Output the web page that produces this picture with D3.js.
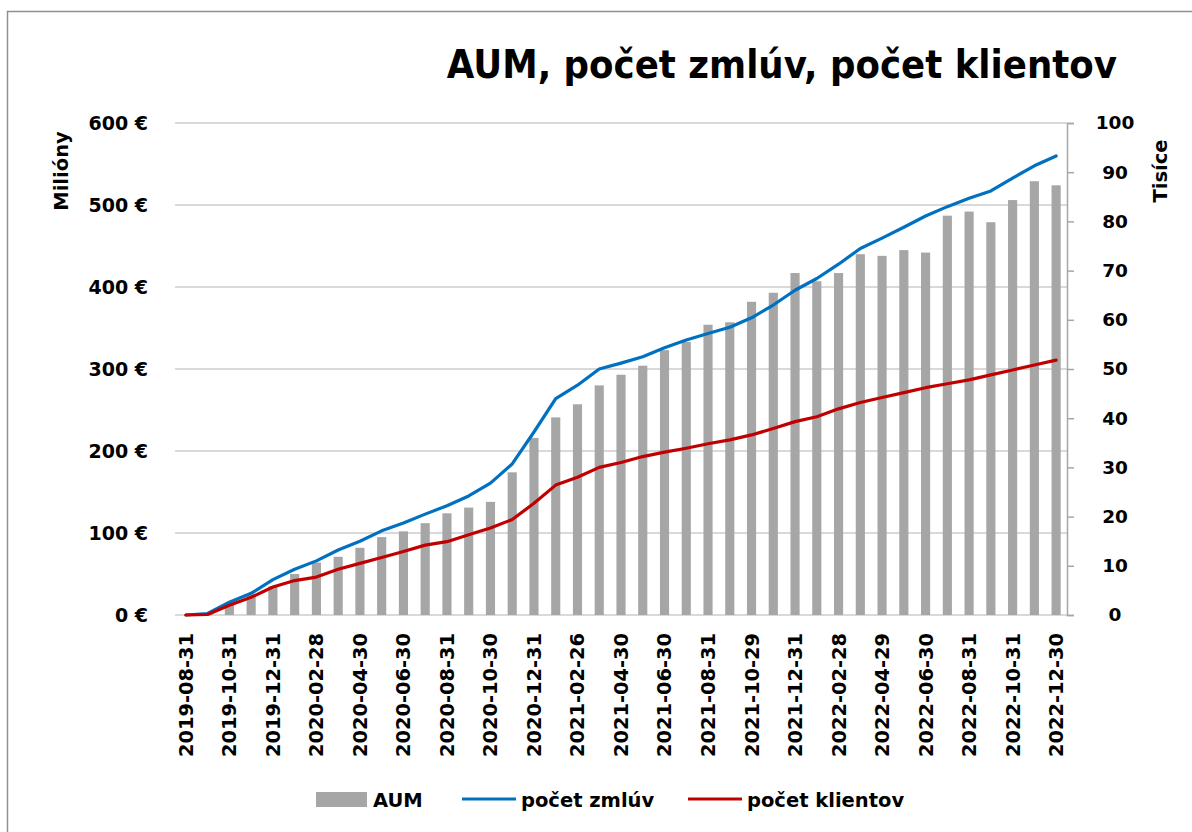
<!DOCTYPE html>
<html><head><meta charset="utf-8">
<script src="https://cdn.jsdelivr.net/npm/d3@7"></script>
<style>
body{margin:0;background:#fff}
text{font-family:"DejaVu Sans",sans-serif;font-weight:bold;fill:#000}
</style>
</head><body>
<svg id="chart" width="1192" height="832"></svg>
<script>
const dates = ["2019-08-31","2019-09-30","2019-10-31","2019-11-29","2019-12-31","2020-01-31","2020-02-28","2020-03-31","2020-04-30","2020-05-29","2020-06-30","2020-07-31","2020-08-31","2020-09-30","2020-10-30","2020-11-30","2020-12-31","2021-01-29","2021-02-26","2021-03-31","2021-04-30","2021-05-31","2021-06-30","2021-07-30","2021-08-31","2021-09-30","2021-10-29","2021-11-30","2021-12-31","2022-01-31","2022-02-28","2022-03-31","2022-04-29","2022-05-31","2022-06-30","2022-07-29","2022-08-31","2022-09-30","2022-10-31","2022-11-30","2022-12-30"];
const aum = [0,1,13,25,35,50,64,71,82,95,102,112,124,131,138,174,216,241,257,280,293,304,323,333,354,357,382,393,417,407,417,440,438,445,442,487,492,479,506,529,524];
const zmluvy = [0,0.3,2.6,4.4,7.2,9.3,11.0,13.2,15.0,17.1,18.7,20.5,22.2,24.2,26.8,30.7,37.2,44.0,46.7,50.0,51.2,52.5,54.3,55.9,57.2,58.5,60.4,63.0,66.0,68.4,71.3,74.5,76.6,78.8,81.1,83.0,84.7,86.2,88.8,91.3,93.3];
const klienti = [0,0.1,2.0,3.6,5.7,7.0,7.7,9.3,10.5,11.7,12.9,14.2,14.9,16.3,17.7,19.4,22.7,26.4,28.0,30.0,31.0,32.2,33.1,33.9,34.8,35.6,36.6,37.9,39.3,40.3,41.9,43.2,44.2,45.2,46.2,47.0,47.8,48.8,49.8,50.8,51.8];
const leftTicks = [0,100,200,300,400,500,600];
const rightTicks = [0,10,20,30,40,50,60,70,80,90,100];
const title = "AUM, počet zmlúv, počet klientov";
const leftTitle = "Milióny";
const rightTitle = "Tisíce";
const seriesNames = ["AUM","počet zmlúv","počet klientov"];

const C = {bar:"#a6a6a6", blue:"#0070c0", red:"#c00000", grid:"#d9d9d9"};
const svg = d3.select("#chart");
const L = 175, R = 1067, T = 123, B = 615;

// chart area border
svg.append("rect").attr("x",7.5).attr("y",11.5).attr("width",1200).attr("height",900)
  .attr("fill","none").attr("stroke","#8f8f8f").attr("stroke-width",1.5);

const x = d3.scaleBand().domain(dates).range([L,R]);
const cx = d => x(d) + x.bandwidth()/2;
const yL = d3.scaleLinear().domain([0,600]).range([B,T]);
const yR = d3.scaleLinear().domain([0,100]).range([B,T]);

// gridlines
svg.append("g").selectAll("line").data(leftTicks).join("line")
  .attr("x1",L).attr("x2",R).attr("y1",d=>yL(d)).attr("y2",d=>yL(d))
  .attr("stroke",C.grid).attr("stroke-width",2);

// left axis labels
const fmtE = d => d + "\u00a0€";
const gl = svg.append("g").attr("transform",`translate(${L},0)`)
  .call(d3.axisLeft(yL).tickValues(leftTicks).tickFormat(fmtE).tickSize(0).tickPadding(27));
gl.select(".domain").remove();
gl.selectAll("text").style("font-size","19px").style("font-family","DejaVu Sans").style("font-weight","bold");

// right axis
const gr = svg.append("g").attr("transform",`translate(${R},0)`)
  .call(d3.axisRight(yR).tickValues(rightTicks).tickSize(7).tickPadding(24));
gr.select(".domain").attr("stroke","#a6a6a6").attr("stroke-width",1.5);
gr.selectAll(".tick line").attr("stroke","#a6a6a6").attr("stroke-width",1.5);
gr.selectAll("text").style("font-size","18.5px").style("font-family","DejaVu Sans").style("font-weight","bold").attr("text-anchor","middle").attr("x",48);

// bars
const bw = x.bandwidth()*0.42;
svg.append("g").selectAll("rect").data(dates).join("rect")
  .attr("x",(d)=>cx(d)-bw/2).attr("width",bw)
  .attr("y",(d,i)=>yL(aum[i])).attr("height",(d,i)=>B-yL(aum[i]))
  .attr("fill",C.bar);

// x axis labels
const gx = svg.append("g").attr("transform",`translate(0,${B})`)
  .call(d3.axisBottom(x).tickValues(dates.filter((d,i)=>i%2===0)).tickSize(0));
gx.select(".domain").remove();
gx.selectAll("text").style("font-size","19.4px").style("font-family","DejaVu Sans").style("font-weight","bold")
  .attr("transform","rotate(-90)").attr("text-anchor","end").attr("x",-18).attr("y",0).attr("dy","0.36em");

// lines
const line = d3.line().x((d,i)=>cx(dates[i])).y(d=>yR(d));
svg.append("path").datum(zmluvy).attr("d",line).attr("fill","none").attr("stroke",C.blue)
  .attr("stroke-width",3.2).attr("stroke-linejoin","round").attr("stroke-linecap","round");
svg.append("path").datum(klienti).attr("d",line).attr("fill","none").attr("stroke",C.red)
  .attr("stroke-width",3.2).attr("stroke-linejoin","round").attr("stroke-linecap","round");

// titles
svg.append("text").attr("transform","translate(1117,78) scale(0.902,1)").attr("text-anchor","end")
  .style("font-size","39.5px").text(title);
svg.append("text").attr("transform","translate(68,171) rotate(-90)").attr("text-anchor","middle")
  .style("font-size","19.5px").text(leftTitle);
svg.append("text").attr("transform","translate(1167,171) rotate(-90)").attr("text-anchor","middle")
  .style("font-size","19.5px").text(rightTitle);

// legend
const lg = svg.append("g");
lg.append("rect").attr("x",316).attr("y",792).attr("width",51).attr("height",15).attr("fill",C.bar);
lg.append("text").attr("x",373).attr("y",807).style("font-size","19.5px").text(seriesNames[0]);
lg.append("line").attr("x1",462).attr("x2",516).attr("y1",799).attr("y2",799).attr("stroke",C.blue).attr("stroke-width",3.2);
lg.append("text").attr("x",521).attr("y",807).style("font-size","19.5px").text(seriesNames[1]);
lg.append("line").attr("x1",688).attr("x2",742).attr("y1",799).attr("y2",799).attr("stroke",C.red).attr("stroke-width",3.2);
lg.append("text").attr("x",747).attr("y",807).style("font-size","19.5px").text(seriesNames[2]);
</script>
</body></html>
